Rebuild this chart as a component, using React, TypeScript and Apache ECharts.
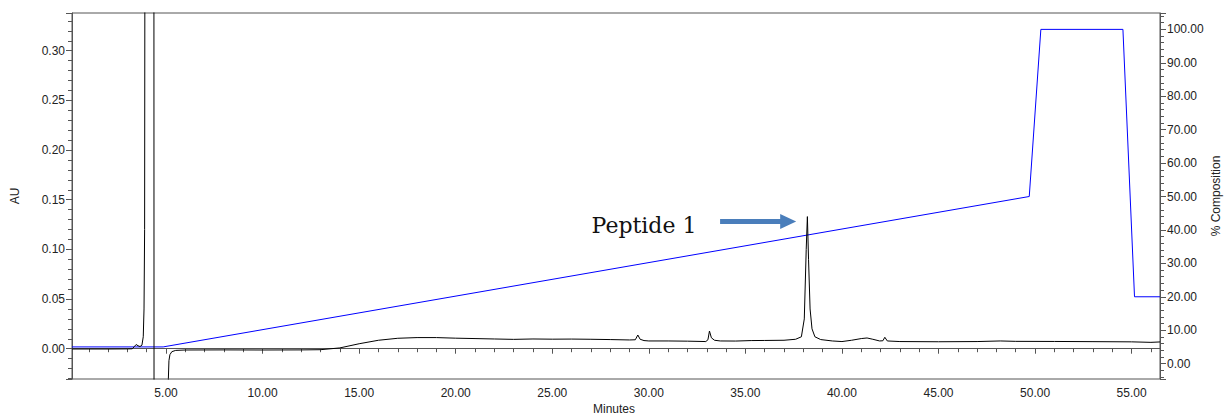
import React, { useEffect, useRef } from "react";
import * as echarts from "echarts";

// UV trace (AU) sampled along the run time (minutes)
const chromMinutes = [
  0.13, 1, 2, 3, 3.25, 3.35, 3.45, 3.55, 3.65, 3.75, 3.82, 3.86, 3.89, 3.91,
  4.37, 4.38, 5.1, 5.12, 5.15, 5.2, 5.3, 5.5, 6, 8, 10, 12, 13, 14, 15, 16, 17,
  18, 19, 20, 21, 22, 23, 24, 25, 26, 27, 28, 29, 29.3, 29.43, 29.55, 29.75, 30,
  31, 32, 32.95, 33.06, 33.14, 33.24, 33.4, 33.7, 34.5, 35.3, 36, 37, 37.6,
  37.9, 38.05, 38.15, 38.21, 38.27, 38.35, 38.45, 38.6, 38.9, 39.5, 40, 40.5,
  41, 41.3, 41.6, 41.95, 42.12, 42.22, 42.35, 43, 45, 47, 48.2, 49, 51, 53, 55,
  56, 56.47,
];
const chromAU = [
  -0.0003, -0.0003, -0.0003, -0.0002, -0.0001, 0.002, 0.0042, 0.003, 0.0022,
  0.0035, 0.012, 0.04, 0.12, 0.5, 0.5, -0.2, -0.2, -0.03, -0.012, -0.006,
  -0.003, -0.0017, -0.0013, -0.0012, -0.0013, -0.0012, -0.001, 0.0008, 0.005,
  0.0085, 0.0105, 0.0112, 0.0112, 0.0106, 0.0102, 0.0098, 0.0094, 0.0098,
  0.0096, 0.0097, 0.0095, 0.0092, 0.0088, 0.009, 0.0138, 0.0095, 0.0082,
  0.0078, 0.0078, 0.0076, 0.0072, 0.009, 0.0178, 0.011, 0.0085, 0.0078, 0.0077,
  0.0082, 0.0083, 0.0085, 0.0095, 0.012, 0.03, 0.1, 0.133, 0.09, 0.04, 0.02,
  0.012, 0.0092, 0.0078, 0.0072, 0.0085, 0.0102, 0.0108, 0.0095, 0.0078, 0.008,
  0.0115, 0.0078, 0.0072, 0.007, 0.0072, 0.0078, 0.0074, 0.0073, 0.0071,
  0.0069, 0.0064, 0.0068,
];

// Solvent gradient program (% composition)
const gradientMinutes = [0.13, 4.85, 49.7, 50.3, 54.55, 55.15, 56.47];
const gradientPercent = [5, 5, 50, 100, 100, 20, 20];

// Axis extents
const timeRange = [0.13, 56.47];
const auRange = [-0.0305, 0.338];
const compositionRange = [-4.6, 104.9];

// Peak annotation (data coordinates: minutes, AU)
const peakLabel = "Peptide 1";
const peakLabelAt = [29.75, 0.1237];
const arrowFrom = [33.69, 0.128];
const arrowTo = [37.63, 0.128];

const axisColor = "#555";
const labelFont = {
  fontFamily: "'Liberation Sans', Arial, sans-serif",
  fontSize: 12,
  color: "#222",
};

export default function App() {
  const ref = useRef<HTMLDivElement>(null);

  useEffect(() => {
    document.body.style.margin = "0";
    const chart = echarts.init(ref.current!, null, { renderer: "svg" });
    const fmt = (v: number) => v.toFixed(2);

    chart.setOption({
      animation: false,
      grid: {
        left: 72,
        right: 65,
        top: 13,
        bottom: 37,
        show: true,
        borderColor: axisColor,
        borderWidth: 1,
        backgroundColor: "transparent",
      },
      xAxis: {
        type: "value",
        min: timeRange[0],
        max: timeRange[1],
        splitNumber: 11,
        minInterval: 5,
        maxInterval: 5,
        axisLine: { show: true, lineStyle: { color: axisColor } },
        axisTick: { show: true, length: 5, lineStyle: { color: axisColor } },
        minorTick: { show: true, splitNumber: 5, length: 3.5, lineStyle: { color: axisColor } },
        splitLine: { show: false },
        axisLabel: { ...labelFont, margin: 8, formatter: fmt, showMinLabel: false, showMaxLabel: false },
      },
      yAxis: [
        {
          type: "value",
          position: "left",
          min: auRange[0],
          max: auRange[1],
          splitNumber: 7,
          minInterval: 0.05,
          maxInterval: 0.05,
          axisLine: { show: true, lineStyle: { color: axisColor } },
          axisTick: { show: true, length: 6, lineStyle: { color: axisColor } },
          minorTick: { show: true, splitNumber: 5, length: 4, lineStyle: { color: axisColor } },
          splitLine: { show: false },
          axisLabel: { ...labelFont, margin: 7, formatter: fmt, showMinLabel: false, showMaxLabel: false },
        },
        {
          type: "value",
          position: "right",
          min: compositionRange[0],
          max: compositionRange[1],
          splitNumber: 11,
          minInterval: 10,
          maxInterval: 10,
          axisLine: { show: true, lineStyle: { color: axisColor } },
          axisTick: { show: true, length: 6, lineStyle: { color: axisColor } },
          minorTick: { show: true, splitNumber: 5, length: 4, lineStyle: { color: axisColor } },
          splitLine: { show: false },
          axisLabel: { ...labelFont, margin: 7, formatter: fmt, showMinLabel: false, showMaxLabel: false },
        },
      ],
      series: [
        {
          name: "Gradient",
          type: "line",
          yAxisIndex: 1,
          data: gradientMinutes.map((m, i) => [m, gradientPercent[i]]),
          showSymbol: false,
          symbol: "none",
          lineStyle: { color: "#0000ff", width: 1 },
          z: 2,
        },
        {
          name: "UV",
          type: "line",
          yAxisIndex: 0,
          data: chromMinutes.map((m, i) => [m, chromAU[i]]),
          showSymbol: false,
          symbol: "none",
          clip: true,
          lineStyle: { color: "#000", width: 1 },
          z: 3,
        },
      ],
    });

    const px = (p: number[]) =>
      chart.convertToPixel({ xAxisIndex: 0, yAxisIndex: 0 }, p) as number[];
    const [lx, ly] = px(peakLabelAt);
    const [ax0, ay] = px(arrowFrom);
    const [ax1] = px(arrowTo);
    const shaft = 2.5;
    const headLen = 16;
    const headHalf = 7.5;
    const hx = ax1 - headLen;

    chart.setOption({
      graphic: [
        {
          type: "text",
          x: 15,
          y: 196,
          rotation: Math.PI / 2,
          style: { text: "AU", ...labelFont, fill: "#222", align: "center", verticalAlign: "middle" },
        },
        {
          type: "text",
          x: 1216,
          y: 196,
          rotation: Math.PI / 2,
          style: { text: "% Composition", ...labelFont, fill: "#222", align: "center", verticalAlign: "middle" },
        },
        {
          type: "text",
          x: 614,
          y: 409,
          style: { text: "Minutes", ...labelFont, fill: "#222", align: "center", verticalAlign: "middle" },
        },
        {
          type: "text",
          x: lx,
          y: ly,
          style: {
            text: peakLabel,
            fontFamily: "'DejaVu Serif', serif",
            fontSize: 22,
            fill: "#111",
            align: "center",
            verticalAlign: "middle",
          },
        },
        {
          type: "polygon",
          shape: {
            points: [
              [ax0, ay - shaft],
              [hx, ay - shaft],
              [hx, ay - headHalf],
              [ax1, ay],
              [hx, ay + headHalf],
              [hx, ay + shaft],
              [ax0, ay + shaft],
            ],
          },
          style: { fill: "#4A7EBB" },
        },
      ],
    });

    return () => chart.dispose();
  }, []);

  return <div ref={ref} style={{ width: 1225, height: 416 }} />;
}
